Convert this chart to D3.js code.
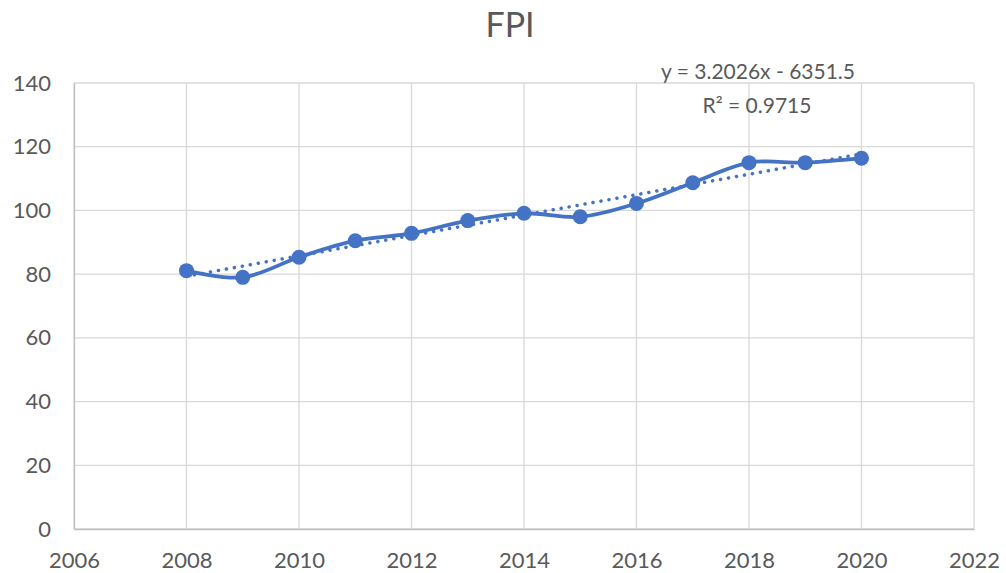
<!DOCTYPE html>
<html>
<head>
<meta charset="utf-8">
<script src="https://cdn.jsdelivr.net/npm/d3@7"></script>
<style>
  body { margin: 0; background: #fff; }
  svg text { font-family: Lato, "Open Sans", sans-serif; fill: #595959; }
</style>
</head>
<body>
<svg id="chart" width="1006" height="573"></svg>
<script>
const years = [2008, 2009, 2010, 2011, 2012, 2013, 2014, 2015, 2016, 2017, 2018, 2019, 2020];
const fpi = [81.1, 79.0, 85.3, 90.5, 92.8, 96.8, 99.1, 98.0, 102.2, 108.7, 115.0, 115.0, 116.4];
const xTicks = [2006, 2008, 2010, 2012, 2014, 2016, 2018, 2020, 2022];
const yTicks = [0, 20, 40, 60, 80, 100, 120, 140];
const trendSlope = 3.2026;
const trendIntercept = -6351.5;
const trendR2 = 0.9715;

const svg = d3.select('#chart');
const margin = { top: 83, right: 32, bottom: 44, left: 74 };
const width = 1006 - margin.left - margin.right;
const height = 573 - margin.top - margin.bottom;

const x = d3.scaleLinear().domain([2006, 2022]).range([0, width]);
const y = d3.scaleLinear().domain([0, 140]).range([height, 0]);

const g = svg.append('g')
  .attr('transform', `translate(${margin.left},${margin.top})`);

// grid
g.append('g').attr('class', 'grid-y')
  .selectAll('line')
  .data(yTicks)
  .enter()
  .append('line')
  .attr('x1', 0)
  .attr('x2', width)
  .attr('y1', d => y(d))
  .attr('y2', d => y(d))
  .attr('stroke', '#d9d9d9')
  .attr('stroke-width', 1.3)
;
g.append('g').attr('class', 'grid-x')
  .selectAll('line')
  .data(xTicks)
  .enter()
  .append('line')
  .attr('x1', d => x(d))
  .attr('x2', d => x(d))
  .attr('y1', 0)
  .attr('y2', height)
  .attr('stroke', '#d9d9d9')
  .attr('stroke-width', 1.3)
;

// axes
const yAxis = g.append('g')
  .call(d3.axisLeft(y).tickValues(yTicks).tickSize(0).tickPadding(23));
yAxis.select('.domain').attr('stroke', '#bfbfbf').attr('stroke-width', 1.3);
yAxis.selectAll('text').style('font-size', '22px').attr('fill', '#595959');

const xAxis = g.append('g')
  .attr('transform', `translate(0,${height})`)
  .call(d3.axisBottom(x).tickValues(xTicks).tickFormat(d3.format('d')).tickSize(0).tickPadding(23));
xAxis.select('.domain').attr('stroke', '#bfbfbf').attr('stroke-width', 1.3);
xAxis.selectAll('text').style('font-size', '22px').attr('fill', '#595959');

// trend line
const trendYears = [years[0], years[years.length - 1]];
g.append('line')
  .attr('x1', x(trendYears[0]))
  .attr('y1', y(trendSlope * trendYears[0] + trendIntercept))
  .attr('x2', x(trendYears[1]))
  .attr('y2', y(trendSlope * trendYears[1] + trendIntercept))
  .attr('stroke', '#4472c4')
  .attr('stroke-width', 3.5)
  .attr('stroke-linecap', 'round')
  .attr('stroke-dasharray', '0.1 8')
;

// series
const data = years.map((yr, i) => ({ year: yr, value: fpi[i] }));
const line = d3.line()
  .x(d => x(d.year))
  .y(d => y(d.value))
  .curve(d3.curveCardinal.tension(0));

g.append('path')
  .datum(data)
  .attr('fill', 'none')
  .attr('stroke', '#4472c4')
  .attr('stroke-width', 3.8)
  .attr('d', line)
;

g.append('g')
  .selectAll('circle')
  .data(data)
  .enter()
  .append('circle')
  .attr('cx', d => x(d.year))
  .attr('cy', d => y(d.value))
  .attr('r', 7.5)
  .attr('fill', '#4472c4')
;

// title
svg.append('text')
  .attr('x', 510)
  .attr('y', 37)
  .attr('text-anchor', 'middle')
  .style('font-size', '34px')
  .text('FPI');

// equation label
svg.append('text')
  .attr('x', 758)
  .attr('y', 79)
  .attr('text-anchor', 'middle')
  .style('font-size', '21px')
  .text(`y = ${trendSlope}x - ${Math.abs(trendIntercept)}`);
svg.append('text')
  .attr('x', 757)
  .attr('y', 113)
  .attr('text-anchor', 'middle')
  .style('font-size', '21px')
  .text(`R² = ${trendR2}`);
</script>
</body>
</html>
